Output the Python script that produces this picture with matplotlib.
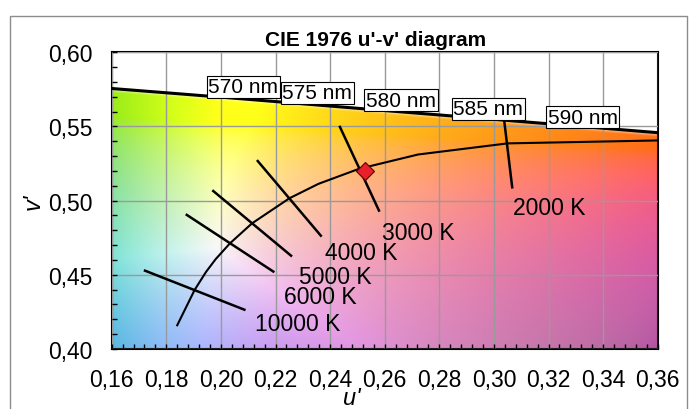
import numpy as np
import matplotlib.pyplot as plt
from matplotlib.patches import Rectangle
from matplotlib.ticker import MultipleLocator, FuncFormatter

plt.rcParams.update({
    "font.family": ["Liberation Sans", "DejaVu Sans"],
    "font.size": 16.5,
})

# spectral locus (nm, u', v')
wl = [560, 565, 570, 575, 580, 585, 590, 595, 600]
loc_u = [0.1531, 0.1766, 0.2026, 0.2312, 0.2623, 0.2960, 0.3315, 0.3681, 0.4035]
loc_v = [0.5766, 0.5732, 0.5694, 0.5651, 0.5604, 0.5554, 0.5501, 0.5446, 0.5393]

# wavelength labels
nm_text = ["570 nm", "575 nm", "580 nm", "585 nm", "590 nm"]
nm_u = [0.1954, 0.2225, 0.2532, 0.2851, 0.3197]
nm_v = [0.5704, 0.5663, 0.5613, 0.5555, 0.5499]

# planckian locus
T = [20000, 10000, 8000, 7000, 6000, 5000, 4000, 3500, 3000, 2500, 2000, 1500, 1400]
pl_u = [0.1840, 0.1904, 0.1946, 0.1981, 0.2033, 0.2114, 0.2251, 0.2357, 0.2505, 0.2722, 0.3050, 0.3579, 0.3700]
pl_v = [0.4160, 0.4399, 0.4521, 0.4606, 0.4712, 0.4847, 0.5016, 0.5113, 0.5214, 0.5311, 0.5386, 0.5405, 0.5411]

# isotherms
iso_text = ["10000 K", "6000 K", "5000 K", "4000 K", "3000 K", "2000 K"]
iso_u1 = [0.1722, 0.1875, 0.1972, 0.2135, 0.2436, 0.3037]
iso_v1 = [0.4528, 0.4904, 0.5065, 0.5267, 0.5497, 0.5551]
iso_u2 = [0.2086, 0.2192, 0.2257, 0.2366, 0.2579, 0.3067]
iso_v2 = [0.4265, 0.4522, 0.4629, 0.4764, 0.4933, 0.5090]
iso_lab_u = [0.2125, 0.2230, 0.2287, 0.2382, 0.2589, 0.3070]
iso_lab_v = [0.4131, 0.4311, 0.4445, 0.4607, 0.4742, 0.4910]

# measured point
pt_u = [0.2528]
pt_v = [0.5198]

U0, U1 = 0.16, 0.36
V0, V1 = 0.40, 0.60

# background colours from u'v'
uu, vv = np.meshgrid(np.linspace(U0, U1, 500), np.linspace(V0, V1, 500))
d = 6 * uu - 16 * vv + 12
x = 9 * uu / d
y = 4 * vv / d
X = x / y
Z = (1 - x - y) / y
R = 3.2406 * X - 1.5372 - 0.4986 * Z
G = -0.9689 * X + 1.8758 + 0.0415 * Z
B = 0.0557 * X - 0.2040 + 1.0570 * Z
rgb = np.clip(np.dstack([R, G, B]), 0, None)
rgb = rgb / rgb.max(axis=2, keepdims=True)
rgb = np.where(rgb <= 0.0031308, 12.92 * rgb, 1.055 * rgb ** (1 / 2.4) - 0.055)
r_, g_, b_ = rgb[..., 0], rgb[..., 1], rgb[..., 2]
# soften greens, turn the magenta corner to purple
k_g = 1 - 0.45 * np.clip(g_ - r_, 0, 1)
w = np.clip((0.55 - vv) / 0.15, 0, 1)
rr = np.clip((uu - 0.22) / 0.14, 0, 1)
g_ = g_ + 0.12 * np.clip(b_ - r_, 0, 1) * (1 - rr)
b_ = b_ + w * rr * np.clip(0.9 * r_ - b_, 0, None)
g_ = g_ + 0.45 * w ** 2 * rr
k_p = 1 - w * (0.02 + 0.33 * np.clip((uu - 0.18) / 0.18, 0, 1))
rgb = np.dstack([r_, g_, b_]) * (k_g * k_p)[..., None]
m = rgb.mean(axis=2, keepdims=True)
rgb = np.clip(m + 1.2 * (rgb - m), 0, 1)
rgb = 0.9 * rgb + 0.1
vl = np.interp(uu, loc_u, loc_v)
a = np.clip((vl - vv) / 0.004 + 0.3, 0, 1)[..., None]
img = a * rgb + (1 - a) * 1.0

fig = plt.figure(figsize=(6.89, 4.10), dpi=100)
fig.patches.append(Rectangle((10 / 689, -0.1), 677 / 689, 1.1 - 17 / 410,
                             transform=fig.transFigure, fill=False,
                             edgecolor="#8c8c8c", lw=1))
ax = fig.add_axes([111.7 / 689, 60 / 410, 546 / 689, 296.7 / 410])
ax.imshow(img, extent=[U0, U1, V0, V1], origin="lower", aspect="auto",
          interpolation="bilinear", zorder=0)

ax.set_xlim(U0, U1)
ax.set_ylim(V0, V1)
ax.xaxis.set_major_locator(MultipleLocator(0.02))
ax.xaxis.set_minor_locator(MultipleLocator(0.004))
ax.yaxis.set_major_locator(MultipleLocator(0.05))
ax.yaxis.set_minor_locator(MultipleLocator(0.01))
ax.xaxis.set_major_formatter(FuncFormatter(lambda v, p: f"{v:.2f}".replace(".", ",")))
ax.yaxis.set_major_formatter(FuncFormatter(lambda v, p: f"{v:.2f}".replace(".", ",")))
ax.tick_params(which="both", direction="in", length=3.6, width=1, top=False, right=False)
ax.tick_params(axis="x", which="major", pad=14)
ax.tick_params(axis="y", which="major", pad=14)
ax.grid(True, which="major", color="#9a9a9a", lw=1)
ax.set_axisbelow(False)
for s in ax.spines.values():
    s.set_linewidth(1.5)

ax.plot(loc_u, loc_v, color="black", lw=2.2, zorder=3)
ax.plot(pl_u, pl_v, color="black", lw=1.5, zorder=3)
for i in range(len(iso_text)):
    ax.plot([iso_u1[i], iso_u2[i]], [iso_v1[i], iso_v2[i]], color="black", lw=1.8, zorder=3)
    ax.text(iso_lab_u[i], iso_lab_v[i], iso_text[i], fontsize=16.5,
            ha="left", va="baseline", zorder=5)
ax.plot(pt_u, pt_v, marker="D", ms=9.5, color="#e8202a", mec="#5a0000", mew=0.8,
        ls="none", zorder=6)

for i in range(len(nm_text)):
    ax.text(nm_u[i], nm_v[i], nm_text[i], fontsize=15, ha="left", va="bottom",
            bbox=dict(boxstyle="square,pad=0.08", fc="white", ec="black", lw=0.8),
            zorder=7)

fig.text(352 / 689, 1 - 405 / 410, "u'", style="italic", fontsize=17,
         ha="center", va="baseline")
ax.set_ylabel("v'", style="italic", fontsize=17, labelpad=2)
fig.text(376 / 689, 1 - 46 / 410, "CIE 1976 u'-v' diagram", fontsize=15,
         fontweight="bold", ha="center", va="baseline")

fig.savefig("out.png", dpi=100)
